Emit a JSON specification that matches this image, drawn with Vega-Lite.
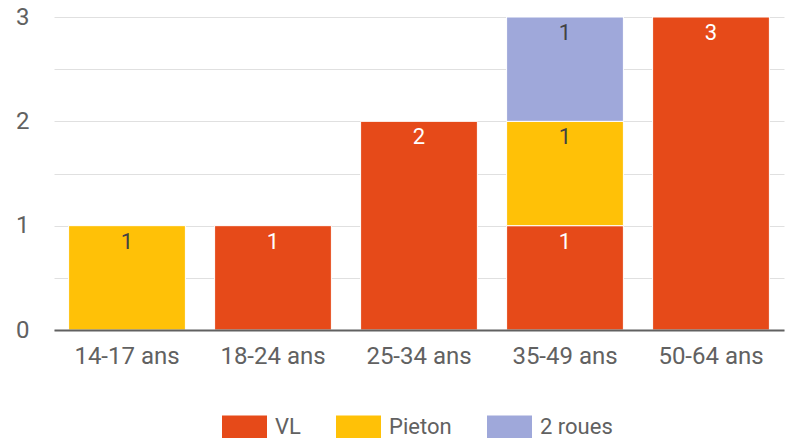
{
  "$schema": "https://vega.github.io/schema/vega-lite/v6.json",
  "width": 730,
  "height": 313,
  "autosize": {"type": "none"},
  "padding": {"left": 54, "top": 17, "right": 9, "bottom": 112},
  "config": {"view": {"stroke": null}, "font": "Roboto"},
  "data": {
    "values": [
      {"age": "14-17 ans", "type": "Pieton", "n": 1, "o": 2},
      {"age": "18-24 ans", "type": "VL", "n": 1, "o": 1},
      {"age": "25-34 ans", "type": "VL", "n": 2, "o": 1},
      {"age": "35-49 ans", "type": "VL", "n": 1, "o": 1},
      {"age": "35-49 ans", "type": "Pieton", "n": 1, "o": 2},
      {"age": "35-49 ans", "type": "2 roues", "n": 1, "o": 3},
      {"age": "50-64 ans", "type": "VL", "n": 3, "o": 1}
    ]
  },
  "encoding": {
    "x": {
      "field": "age",
      "type": "nominal",
      "sort": null,
      "title": null,
      "scale": {"paddingInner": 0.2, "paddingOuter": 0.1},
      "axis": {
        "labelAngle": 0,
        "labelFontSize": 24,
        "labelColor": "#616161",
        "labelPadding": 14,
        "ticks": false,
        "domainColor": "#616161",
        "domainWidth": 2,
        "zindex": 1
      }
    },
    "y": {
      "field": "n",
      "type": "quantitative",
      "stack": "zero",
      "title": null,
      "scale": {"domain": [0, 3], "nice": false},
      "axis": {
        "values": [0, 0.5, 1, 1.5, 2, 2.5, 3],
        "labelExpr": "datum.value % 1 === 0 ? format(datum.value, 'd') : ''",
        "labelFontSize": 24,
        "labelColor": "#616161",
        "labelPadding": 25,
        "ticks": false,
        "domain": false,
        "gridColor": "#e0e0e0",
        "gridWidth": 1
      }
    },
    "order": {"field": "o"}
  },
  "layer": [
    {
      "mark": {"type": "bar", "stroke": "white", "strokeWidth": 1},
      "encoding": {
        "color": {
          "field": "type",
          "type": "nominal",
          "scale": {"domain": ["VL", "Pieton", "2 roues"], "range": ["#E64A19", "#FFC107", "#9FA8DA"]},
          "legend": {
            "orient": "none",
            "legendX": 168,
            "legendY": 387,
            "direction": "horizontal",
            "title": null,
            "padding": 0,
            "symbolType": "M-1,-0.5H1V0.5H-1Z",
            "symbolSize": 2025,
            "symbolStrokeWidth": 0,
            "symbolOpacity": 1,
            "labelFontSize": 22,
            "labelColor": "#616161",
            "labelOffset": 8,
            "columnPadding": 35
          }
        }
      }
    },
    {
      "mark": {"type": "text", "baseline": "top", "dy": 6, "fontSize": 22},
      "encoding": {
        "detail": {"field": "type"},
        "text": {"field": "n", "type": "quantitative"},
        "color": {"condition": {"test": "datum.type === 'VL'", "value": "white"}, "value": "#424242"}
      }
    }
  ]
}
